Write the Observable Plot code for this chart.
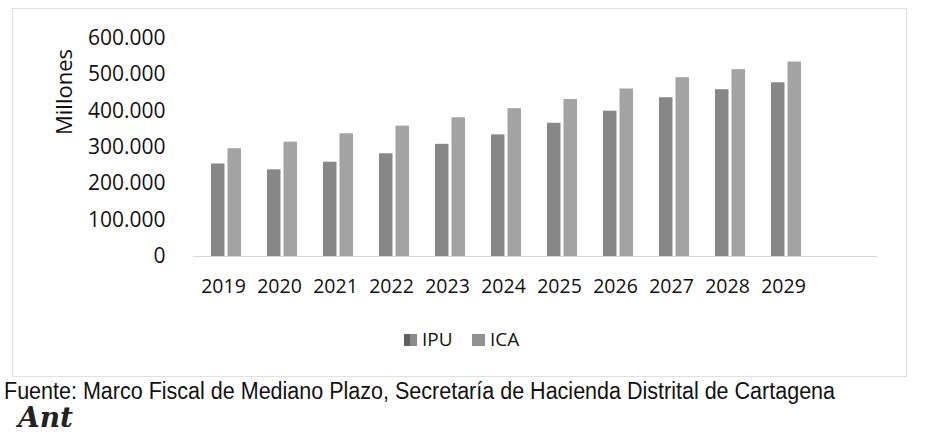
<!DOCTYPE html>
<html>
<head>
<meta charset="utf-8">
<script src="https://cdn.jsdelivr.net/npm/d3@7"></script>
<script src="https://cdn.jsdelivr.net/npm/@observablehq/plot@0.6"></script>
<style>
  html, body { margin: 0; padding: 0; background: #fff; }
  #fig { position: relative; width: 929px; height: 438px; overflow: hidden; background: #fff; }
  #frame { position: absolute; left: 12px; top: 8px; width: 895px; height: 369px; border: 1px solid #e0e0e0; box-sizing: border-box; }
  #chart { position: absolute; left: 0; top: 0; }
  #ytitle { position: absolute; left: 63px; top: 92px; transform: translate(-50%, -50%) rotate(-90deg); font-family: "Open Sans", sans-serif; font-size: 22px; color: #111; white-space: nowrap; line-height: 1; }
  .leg { position: absolute; top: 330px; font-family: "Open Sans", sans-serif; font-size: 19px; color: #111; line-height: 1; white-space: nowrap; display: flex; align-items: center; }
  .sw { display: inline-block; width: 13px; height: 12px; margin-right: 5px; }
  #caption { position: absolute; left: 4px; top: 380px; font-family: "Liberation Sans", Arial, sans-serif; font-size: 23px; color: #111; white-space: nowrap; line-height: 1; transform-origin: 0 0; }
  #sig { position: absolute; left: 18px; top: 404px; font-family: "DejaVu Serif", serif; font-style: italic; font-weight: bold; font-size: 28px; color: #222; line-height: 1; }
</style>
</head>
<body>
<div id="fig">
  <div id="frame"></div>
  <div id="chart"></div>
  <div id="ytitle"></div>
  <div id="legIPU" class="leg" style="left:404px"><span class="sw" style="background:linear-gradient(90deg,#5e5e5e 0 50%,#8a8a8a 50% 100%)"></span><span class="lt"></span></div>
  <div id="legICA" class="leg" style="left:472px"><span class="sw" style="background:#929292"></span><span class="lt"></span></div>
  <div id="caption"></div>
  <div id="sig"></div>
</div>
<script>
// ---- data (millones) ----
const years = ["2019","2020","2021","2022","2023","2024","2025","2026","2027","2028","2029"];
const ipu = [254000, 238000, 259000, 282000, 308000, 334000, 366000, 399000, 436000, 458000, 477000];
const ica = [296000, 314000, 337000, 358000, 381000, 406000, 431000, 460000, 491000, 513000, 534000];
const seriesNames = ["IPU", "ICA"];
const yTicks = [0, 100000, 200000, 300000, 400000, 500000, 600000];
const yTitle = "Millones";
const captionText = "Fuente: Marco Fiscal de Mediano Plazo, Secretaría de Hacienda Distrital de Cartagena";
const signature = "Ant";

const rows = years.map((year, i) => ({year, IPU: ipu[i], ICA: ica[i]}));
const fmt = d3.formatLocale({decimal: ",", thousands: ".", grouping: [3], currency: ["$", ""]}).format(",.0f");

const chart = Plot.plot({
  width: 929,
  height: 310,
  marginLeft: 193,
  marginRight: 52,
  marginTop: 37.5,
  marginBottom: 54,
  style: {background: "transparent", color: "#111"},
  x: {domain: years, range: [193, 819.5], paddingInner: 0.465, paddingOuter: 0.23},
  y: {domain: [0, 600000]},
  marks: [
    Plot.barY(rows, {x: "year", y: "IPU", fill: "#878787", insetRight: 16.5}),
    Plot.barY(rows, {x: "year", y: "ICA", fill: "#a3a3a3", insetLeft: 16.5}),
    Plot.ruleY([0], {stroke: "#d6d6d6", strokeWidth: 1.2}),
    Plot.axisX({tickSize: 0, tickPadding: 23, dx: -3, fontSize: 19.5, fontFamily: "Open Sans, sans-serif", label: null}),
    Plot.axisY({ticks: yTicks, tickFormat: fmt, tickSize: 0, tickPadding: 28, fontSize: 21, fontFamily: "Open Sans, sans-serif", label: null})
  ]
});
document.getElementById("chart").appendChild(chart);

document.getElementById("ytitle").textContent = yTitle;
document.querySelector("#legIPU .lt").textContent = seriesNames[0];
document.querySelector("#legICA .lt").textContent = seriesNames[1];
document.getElementById("sig").textContent = signature;

// condense caption horizontally to its width in the reference
const cap = document.getElementById("caption");
cap.textContent = captionText;
const natural = cap.getBoundingClientRect().width;
cap.style.transform = "scaleX(" + (831 / natural).toFixed(4) + ")";
</script>
</body>
</html>
